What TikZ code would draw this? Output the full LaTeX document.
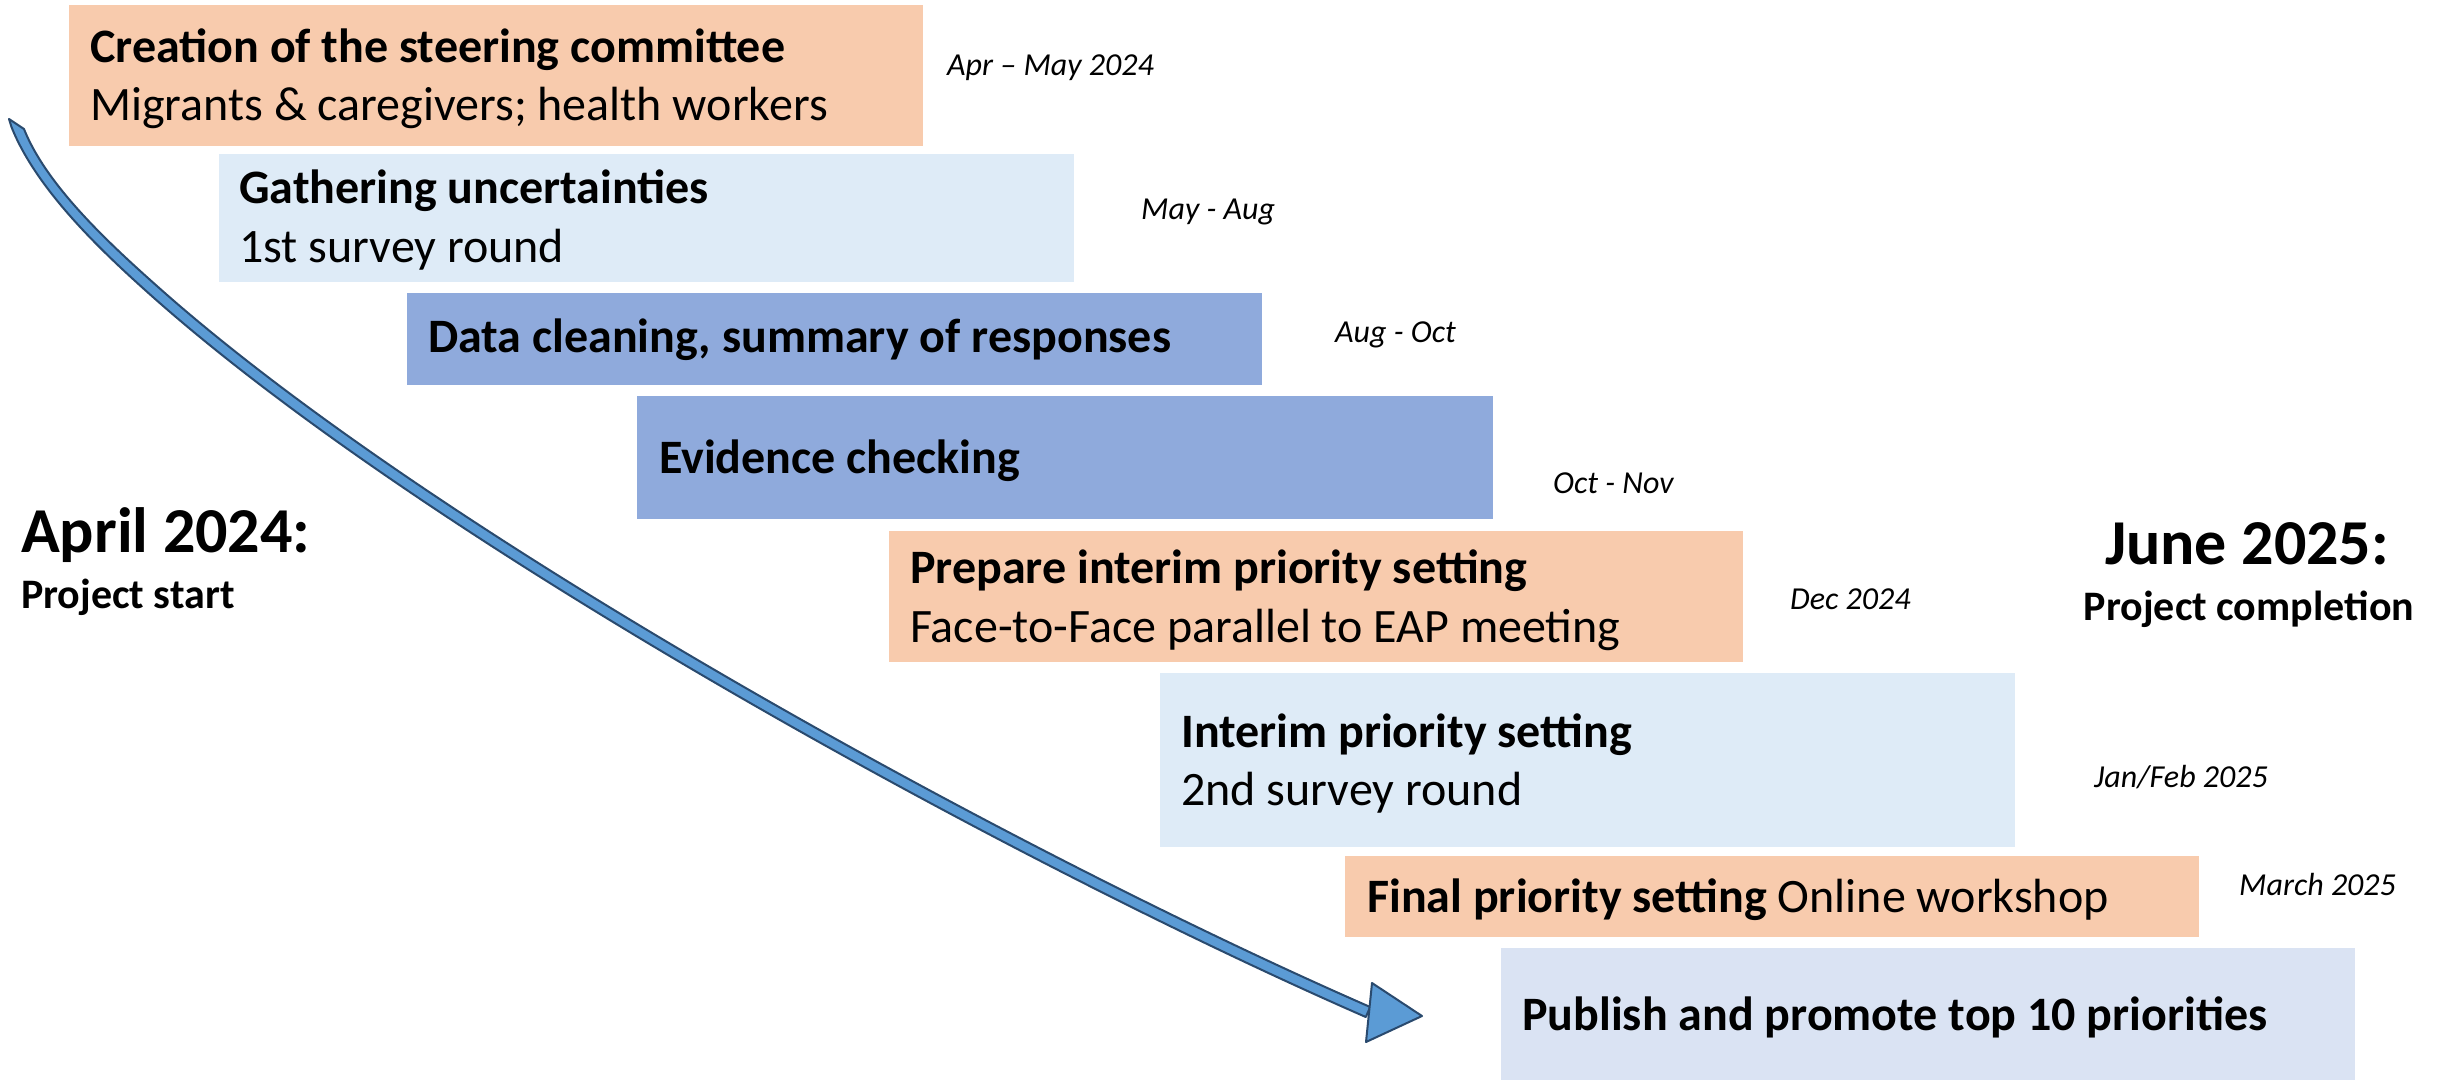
\documentclass[tikz,border=0pt]{standalone}
\usepackage{fontspec}
\setmainfont{Carlito}
\definecolor{orangebox}{HTML}{F8CBAD}
\definecolor{lightbluebox}{HTML}{DEEBF7}
\definecolor{midbluebox}{HTML}{8FAADC}
\definecolor{palebluebox}{HTML}{DAE3F3}
\definecolor{arrowfill}{HTML}{5B9BD5}
\definecolor{arrowline}{HTML}{2A4A6E}
\tikzset{
  phase/.style={rectangle, draw=none, inner sep=0pt, anchor=north west},
  ttl/.style={anchor=base west, inner sep=0pt, font=\fontsize{48}{58}\selectfont\bfseries},
  sub/.style={anchor=base west, inner sep=0pt, font=\fontsize{48}{58}\selectfont},
  datelbl/.style={anchor=base west, inner sep=0pt, font=\fontsize{32}{38}\selectfont\itshape},
  bigdate/.style={inner sep=0pt, font=\fontsize{64}{72}\selectfont\bfseries},
  bignote/.style={inner sep=0pt, font=\fontsize{42}{50}\selectfont\bfseries},
  arrowbody/.style={fill=arrowfill, draw=arrowline, line width=2pt, line join=round}
}
\begin{document}
\begin{tikzpicture}[x=1pt,y=-1pt]
\useasboundingbox (0,0) rectangle (2443,1080);
\fill[white] (0,0) rectangle (2443,1080);

% phase boxes
\node[phase, fill=orangebox,    minimum width=854, minimum height=141] (b1) at (69,5) {};
\node[phase, fill=lightbluebox, minimum width=855, minimum height=128] (b2) at (219,154) {};
\node[phase, fill=midbluebox,   minimum width=855, minimum height=92]  (b3) at (407,293) {};
\node[phase, fill=midbluebox,   minimum width=856, minimum height=123] (b4) at (637,396) {};
\node[phase, fill=orangebox,    minimum width=854, minimum height=131] (b5) at (889,531) {};
\node[phase, fill=lightbluebox, minimum width=855, minimum height=174] (b6) at (1160,673) {};
\node[phase, fill=orangebox,    minimum width=854, minimum height=81]  (b7) at (1345,856) {};
\node[phase, fill=palebluebox,  minimum width=854, minimum height=132] (b8) at (1501,948) {};

% box texts
\node[ttl] (t1) at (90,62) {Creation of the steering committee};
\node[sub] (s1) at (90,120) {Migrants \& caregivers; health workers};
\node[ttl] (t2) at (239,203) {Gathering uncertainties};
\node[sub] (s2) at (239,262) {1st survey round};
\node[ttl] (t3) at (428,352) {Data cleaning, summary of responses};
\node[ttl] (t4) at (659,473) {Evidence checking};
\node[ttl] (t5) at (910,583) {Prepare interim priority setting};
\node[sub] (s5) at (910,642) {Face-to-Face parallel to EAP meeting};
\node[ttl] (t6) at (1181,747) {Interim priority setting};
\node[sub] (s6) at (1181,805) {2nd survey round};
\node[sub] (t7) at (1367,912) {\bfseries Final priority setting\mdseries{} Online workshop};
\node[ttl] (t8) at (1522,1030) {Publish and promote top 10 priorities};

% dates
\node[datelbl] (d1) at (947,75) {Apr – May 2024};
\node[datelbl] (d2) at (1141,219) {May - Aug};
\node[datelbl] (d3) at (1335,342) {Aug - Oct};
\node[datelbl] (d4) at (1553,493) {Oct - Nov};
\node[datelbl] (d5) at (1790,609) {Dec 2024};
\node[datelbl] (d6) at (2094,787) {Jan/Feb 2025};
\node[datelbl] (d7) at (2239,895) {March 2025};

% start / end labels
\node[bigdate, anchor=base west] (startdate) at (21,552) {April 2024:};
\node[bignote, anchor=base west] (startnote) at (21,608) {Project start};
\node[bigdate, anchor=base] (enddate) at (2247,564) {June 2025:};
\node[bignote, anchor=base] (endnote) at (2249,620) {Project completion};

% curved timeline arrow
\coordinate (arrowtail) at (16,124);
\coordinate (arrowtip) at (1422,1016);
\filldraw[arrowbody]
  (24,129) .. controls (47.1,187) and (111.6,245.9) .. (163.6,291.9)
  .. controls (448.6,542.9) and (1022.2,855) .. (1370.2,1007)
  -- (1365.8,1017)
  .. controls (1017.8,865) and (441.4,551.1) .. (156.4,300.1)
  .. controls (104.4,254.1) and (36.9,191) .. (11.5,127)
  -- (9,119) -- cycle;
\filldraw[arrowbody] (1372,983) -- (arrowtip) -- (1366,1042) -- cycle;
\end{tikzpicture}
\end{document}
